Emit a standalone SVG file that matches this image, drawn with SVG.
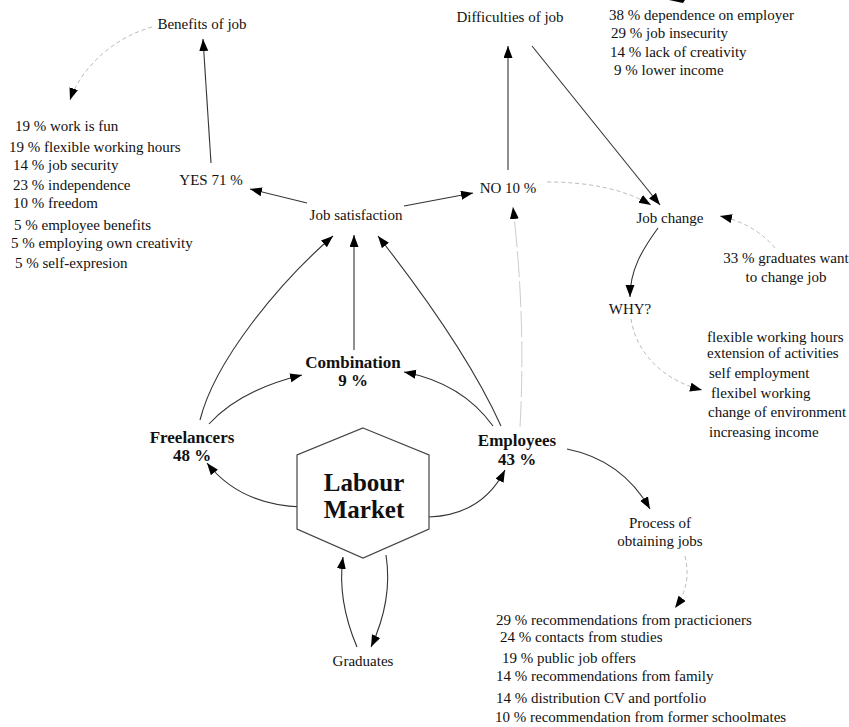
<svg xmlns="http://www.w3.org/2000/svg" width="849" height="727" viewBox="0 0 849 727">
<style>
text{font-family:"Liberation Serif","Times New Roman",serif;font-size:15px;fill:#111}
.c{text-anchor:middle}
.b{font-weight:bold;font-size:17px}
.big{font-weight:bold;font-size:25px}
.s{fill:none;stroke:#333;stroke-width:1.1}
.d{fill:none;stroke:#bbb;stroke-width:1;stroke-dasharray:4,3}
.ld{fill:none;stroke:#ccc;stroke-width:1;stroke-dasharray:26,4}
.hex{fill:#fff;stroke:#444;stroke-width:1.2}
</style>
<defs>
<marker id="ah" markerUnits="userSpaceOnUse" markerWidth="13" markerHeight="10" refX="12" refY="4.5" orient="auto">
<path d="M0,0 L12,4.5 L0,9 z" fill="#000"/>
</marker>
</defs>
<rect width="849" height="727" fill="#fff"/>
<g id="connectors">
<path class="d" d="M152,27 C112,38 80,70 70,100" marker-end="url(#ah)"/>
<path class="s" d="M211,163 L203,39" marker-end="url(#ah)"/>
<path class="s" d="M307,203 L250,189" marker-end="url(#ah)"/>
<path class="s" d="M404,206 L473,193" marker-end="url(#ah)"/>
<path class="s" d="M508,170 L508,46" marker-end="url(#ah)"/>
<path class="s" d="M532,46 L660,205" marker-end="url(#ah)"/>
<path class="d" d="M547,182 Q612,182 651,205" marker-end="url(#ah)"/>
<path class="d" d="M775,248 Q755,224 720,216" marker-end="url(#ah)"/>
<path class="s" d="M658,228 C642,250 630,270 630,297" marker-end="url(#ah)"/>
<path class="d" d="M631,319 C636,352 662,380 702,390" marker-end="url(#ah)"/>
<path class="s" d="M354,350 L354,235" marker-end="url(#ah)"/>
<path class="s" d="M200,420 C215,360 280,282 333,236" marker-end="url(#ah)"/>
<path class="s" d="M209,424 Q240,390 302,375" marker-end="url(#ah)"/>
<path class="s" d="M302,507 Q240,505 207,463" marker-end="url(#ah)"/>
<path class="s" d="M429,517 Q482,515 505,470" marker-end="url(#ah)"/>
<path class="s" d="M501,426 C472,362 422,292 378,236" marker-end="url(#ah)"/>
<path class="s" d="M493,426 Q462,383 404,372" marker-end="url(#ah)"/>
<path class="ld" d="M520,427 Q526,320 513,207" marker-end="url(#ah)"/>
<path class="s" d="M567,449 Q622,460 650,509" marker-end="url(#ah)"/>
<path class="d" d="M685,556 Q692,585 675,608" marker-end="url(#ah)"/>
<path class="s" d="M357,647 Q337,600 343,557" marker-end="url(#ah)"/>
<path class="s" d="M386,555 Q393,600 371,647" marker-end="url(#ah)"/>
<polygon points="669,0 685,0 683,3" fill="#000"/>
</g>
<g id="benefits">
<text class="c" x="202" y="29">Benefits of job</text>
</g>
<g id="benefits-list">
<text x="15" y="131">19 % work is fun</text>
<text x="9" y="152">19 % flexible working hours</text>
<text x="13" y="170">14 % job security</text>
<text x="13" y="190">23 % independence</text>
<text x="13" y="208">10 % freedom</text>
<text x="14" y="230">5 % employee benefits</text>
<text x="11" y="248">5 % employing own creativity</text>
<text x="15" y="268">5 % self-expresion</text>
</g>
<g id="yes"><text class="c" x="211" y="185">YES 71 %</text></g>
<g id="job-satisfaction"><text class="c" x="356" y="220">Job satisfaction</text></g>
<g id="no"><text class="c" x="508" y="193">NO 10 %</text></g>
<g id="difficulties"><text class="c" x="510" y="22">Difficulties of job</text></g>
<g id="difficulties-list">
<text x="609" y="20">38 % dependence on employer</text>
<text x="611" y="38">29 % job insecurity</text>
<text x="610" y="57">14 % lack of creativity</text>
<text x="614" y="75">9 % lower income</text>
</g>
<g id="job-change"><text class="c" x="670" y="223">Job change</text></g>
<g id="graduates-want">
<text class="c" x="786" y="263">33 % graduates want</text>
<text class="c" x="786" y="282">to change job</text>
</g>
<g id="why"><text class="c" x="630" y="314">WHY?</text></g>
<g id="why-list">
<text x="707" y="342">flexible working hours</text>
<text x="707" y="358">extension of activities</text>
<text x="709" y="378">self employment</text>
<text x="711" y="398">flexibel working</text>
<text x="708" y="417">change of environment</text>
<text x="709" y="437">increasing income</text>
</g>
<g id="combination">
<text class="c b" x="353" y="368">Combination</text>
<text class="c b" x="353" y="386">9 %</text>
</g>
<g id="freelancers">
<text class="c b" x="192" y="443">Freelancers</text>
<text class="c b" x="192" y="461">48 %</text>
</g>
<g id="employees">
<text class="c b" x="517" y="446">Employees</text>
<text class="c b" x="517" y="465">43 %</text>
</g>
<g id="labour-market">
<polygon class="hex" points="363,428 429,455 429,529 363,558 297,529 297,455"/>
<text class="c big" x="364" y="491">Labour</text>
<text class="c big" x="364" y="518">Market</text>
</g>
<g id="graduates"><text class="c" x="363" y="666">Graduates</text></g>
<g id="process">
<text class="c" x="660" y="528">Process of</text>
<text class="c" x="660" y="546">obtaining jobs</text>
</g>
<g id="process-list">
<text x="496" y="625">29 % recommendations from practicioners</text>
<text x="500" y="642">24 % contacts from studies</text>
<text x="502" y="663">19 % public job offers</text>
<text x="496" y="681">14 % recommendations from family</text>
<text x="496" y="703">14 % distribution CV and portfolio</text>
<text x="495" y="722">10 % recommendation from former schoolmates</text>
</g>
</svg>
